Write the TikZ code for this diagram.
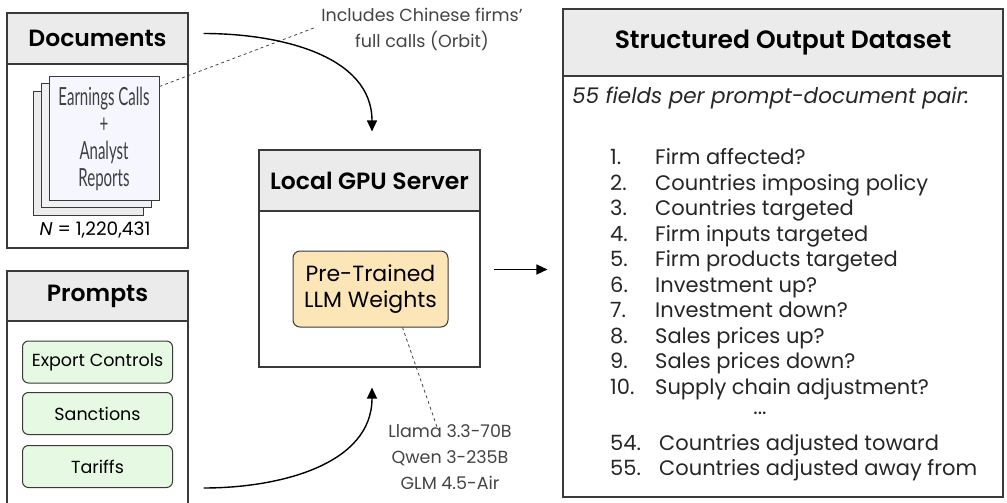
\documentclass[tikz,border=0pt]{standalone}
\usepackage{fontspec}
\setmainfont{Poppins}[BoldFont={Poppins SemiBold}]
\newfontfamily\narrowfont[FakeStretch=0.6]{Lato}
\usetikzlibrary{positioning, arrows.meta}

\definecolor{linegray}{HTML}{3A3A3A}
\definecolor{headgray}{HTML}{EBEBEB}
\definecolor{notegray}{HTML}{444444}
\definecolor{pageback}{HTML}{ECECEC}
\definecolor{pagemid}{HTML}{F0F1F6}
\definecolor{pagefront}{HTML}{F5F6FE}
\definecolor{promptgreen}{HTML}{E6FAE3}
\definecolor{weightorange}{HTML}{FCE6B8}

\begin{document}
\begin{tikzpicture}[x=1pt, y=-1pt,
    panel/.style={draw=linegray, line width=1.1pt, fill=white, inner sep=0pt},
    head/.style={draw=linegray, line width=1.1pt, fill=headgray, inner sep=0pt,
      font=\fontsize{23.5}{28}\selectfont\bfseries},
    page/.style={draw=linegray, line width=1pt, minimum width=110, minimum height=123, inner sep=0pt},
    prompt/.style={draw=linegray, line width=1pt, fill=promptgreen, rounded corners=6pt,
      minimum width=150, minimum height=42, font=\fontsize{17.5}{20}\selectfont},
    flow/.style={-{Triangle[length=11pt,width=10pt]}, line width=1.4pt},
    note/.style={dashed, line width=0.8pt, draw=notegray},
    notetext/.style={align=center, text=notegray, font=\fontsize{17.5}{26}\selectfont},
    field/.style={anchor=base west, inner sep=0pt, text=black!85, font=\fontsize{21}{24}\selectfont}]
  \useasboundingbox (0,0) rectangle (1007,503);

  % documents
  \node[panel, minimum width=181, minimum height=235] (docs) at (97.5,130.5) {};
  \node[head, minimum width=181, minimum height=51, anchor=north] (docshead) at (docs.north) {Documents};
  \node[page, fill=pageback] (docback) at (88,153.5) {};
  \node[page, fill=pagemid] (docmid) at (96,145.5) {};
  \node[page, fill=pagefront, align=center, text=black!75,
    font=\narrowfont\fontsize{25}{27}\selectfont] (docfront) at (104,138.5) {Earnings Calls\\+\\Analyst\\Reports};
  \node[font=\fontsize{18.5}{22}\selectfont] (ncount) at (95,230) {\textit{N} = 1,220,431};

  % prompts
  \node[panel, minimum width=181, minimum height=233] (prompts) at (97.5,387.5) {};
  \node[head, minimum width=181, minimum height=50, anchor=north] (promptshead) at (prompts.north) {Prompts};
  \node[prompt] (export) at (97.5,362) {Export Controls};
  \node[prompt] (sanctions) at (97.5,413.5) {Sanctions};
  \node[prompt] (tariffs) at (97.5,466.5) {Tariffs};

  % server
  \node[panel, minimum width=221, minimum height=217] (server) at (369.5,258.5) {};
  \node[head, minimum width=221, minimum height=61, anchor=north] (serverhead) at (server.north) {Local GPU Server};
  \node[draw=linegray, line width=1pt, fill=weightorange, rounded corners=7pt, align=center,
    minimum width=155, minimum height=76, font=\fontsize{22}{26}\selectfont] (weights) at (370.5,289) {Pre-Trained\\LLM Weights};

  % output
  \node[panel, minimum width=440, minimum height=488] (output) at (783,253) {};
  \node[head, minimum width=440, minimum height=67, anchor=north, font=\fontsize{25}{30}\selectfont\bfseries] (outputhead) at (output.north) {Structured Output Dataset};
  \node[field, font=\fontsize{21.5}{24}\selectfont\itshape] (pairs) at (572,103) {55 fields per prompt-document pair:};
  \foreach \i/\t in {1/Firm affected?, 2/Countries imposing policy, 3/Countries targeted,
      4/Firm inputs targeted, 5/Firm products targeted, 6/Investment up?, 7/Investment down?,
      8/Sales prices up?, 9/Sales prices down?, 10/Supply chain adjustment?} {
    \node[field] (num\i) at (610,{164.5+(\i-1)*25.5}) {\i.};
    \node[field] (item\i) at (655,{164.5+(\i-1)*25.5}) {\t};
  }
  \node[field, anchor=base] (dots) at (760,414) {...};
  \node[field] (num54) at (610,450.5) {54.};
  \node[field] (item54) at (659,450.5) {Countries adjusted toward};
  \node[field] (num55) at (610,475.5) {55.};
  \node[field] (item55) at (659,475.5) {Countries adjusted away from};

  % notes
  \node[notetext] (orbit) at (422,29) {Includes Chinese firms'\\full calls (Orbit)};
  \node[notetext] (models) at (450,457) {Llama 3.3-70B\\Qwen 3-235B\\GLM 4.5-Air};
  \draw[note] ([yshift=-10pt]docfront.north east) -- ([xshift=-4pt,yshift=1pt]orbit.west);
  \draw[note] ([xshift=32pt]weights.south) -- ([xshift=-13pt,yshift=-6pt]models.north);

  % arrows
  \draw[flow] ([xshift=15pt,yshift=5pt]docshead.east) to[out=0, in=90] ([xshift=2.5pt,yshift=18pt]server.north);
  \draw[flow] ([xshift=15pt]tariffs.south east -| prompts.east) to[out=0, in=-90] ([xshift=2.5pt,yshift=-20pt]server.south);
  \draw[flow] ([xshift=13pt,yshift=-11pt]server.east) -- ([xshift=-15pt,yshift=-11pt]server.east -| output.west);
\end{tikzpicture}
\end{document}
